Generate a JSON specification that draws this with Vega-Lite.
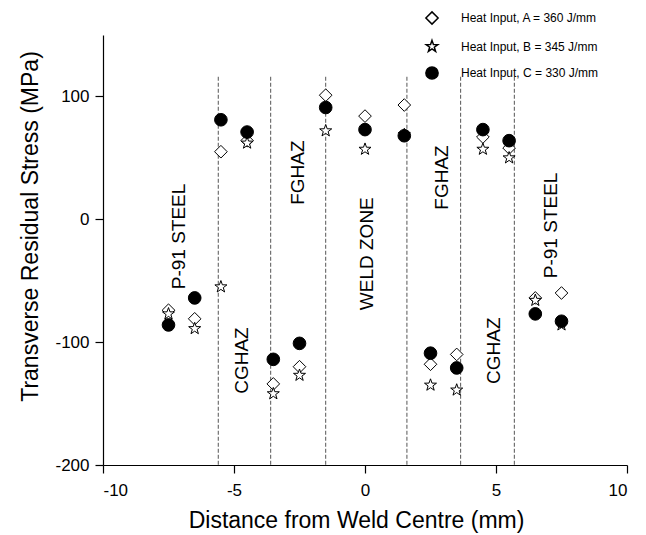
{
  "$schema": "https://vega.github.io/schema/vega-lite/v6.json",
  "width": 524,
  "height": 430,
  "autosize": {"type": "none"},
  "padding": {"left": 103, "top": 35, "right": 19, "bottom": 70},
  "background": "white",
  "config": {
    "view": {"stroke": null},
    "font": "Liberation Sans",
    "axis": {
      "grid": false,
      "domainColor": "black",
      "domainWidth": 1.2,
      "tickColor": "black",
      "tickWidth": 1.2,
      "tickSize": 8,
      "labelFont": "Liberation Sans",
      "labelFontSize": 17,
      "labelColor": "black",
      "titleFont": "Liberation Sans",
      "titleFontSize": 23,
      "titleFontWeight": "normal",
      "titleColor": "black"
    },
    "legend": {
      "labelFont": "Liberation Sans",
      "labelFontSize": 12,
      "labelColor": "black"
    }
  },
  "datasets": {
    "points": [
      {"x": -7.5, "y": -74, "series": "Heat Input, A = 360 J/mm"},
      {"x": -6.5, "y": -81, "series": "Heat Input, A = 360 J/mm"},
      {"x": -5.5, "y": 55, "series": "Heat Input, A = 360 J/mm"},
      {"x": -4.5, "y": 64, "series": "Heat Input, A = 360 J/mm"},
      {"x": -3.5, "y": -134, "series": "Heat Input, A = 360 J/mm"},
      {"x": -2.5, "y": -120, "series": "Heat Input, A = 360 J/mm"},
      {"x": -1.5, "y": 101, "series": "Heat Input, A = 360 J/mm"},
      {"x": 0, "y": 84, "series": "Heat Input, A = 360 J/mm"},
      {"x": 1.5, "y": 93, "series": "Heat Input, A = 360 J/mm"},
      {"x": 2.5, "y": -118, "series": "Heat Input, A = 360 J/mm"},
      {"x": 3.5, "y": -110, "series": "Heat Input, A = 360 J/mm"},
      {"x": 4.5, "y": 67, "series": "Heat Input, A = 360 J/mm"},
      {"x": 5.5, "y": 58, "series": "Heat Input, A = 360 J/mm"},
      {"x": 6.5, "y": -64, "series": "Heat Input, A = 360 J/mm"},
      {"x": 7.5, "y": -60, "series": "Heat Input, A = 360 J/mm"},
      {"x": -7.5, "y": -77, "series": "Heat Input, B = 345 J/mm"},
      {"x": -6.5, "y": -89, "series": "Heat Input, B = 345 J/mm"},
      {"x": -5.5, "y": -55, "series": "Heat Input, B = 345 J/mm"},
      {"x": -4.5, "y": 62, "series": "Heat Input, B = 345 J/mm"},
      {"x": -3.5, "y": -142, "series": "Heat Input, B = 345 J/mm"},
      {"x": -2.5, "y": -127, "series": "Heat Input, B = 345 J/mm"},
      {"x": -1.5, "y": 72, "series": "Heat Input, B = 345 J/mm"},
      {"x": 0, "y": 57, "series": "Heat Input, B = 345 J/mm"},
      {"x": 1.5, "y": 69, "series": "Heat Input, B = 345 J/mm"},
      {"x": 2.5, "y": -135, "series": "Heat Input, B = 345 J/mm"},
      {"x": 3.5, "y": -139, "series": "Heat Input, B = 345 J/mm"},
      {"x": 4.5, "y": 57, "series": "Heat Input, B = 345 J/mm"},
      {"x": 5.5, "y": 50, "series": "Heat Input, B = 345 J/mm"},
      {"x": 6.5, "y": -66, "series": "Heat Input, B = 345 J/mm"},
      {"x": 7.5, "y": -86, "series": "Heat Input, B = 345 J/mm"},
      {"x": -7.5, "y": -86, "series": "Heat Input, C = 330 J/mm"},
      {"x": -6.5, "y": -64, "series": "Heat Input, C = 330 J/mm"},
      {"x": -5.5, "y": 81, "series": "Heat Input, C = 330 J/mm"},
      {"x": -4.5, "y": 71, "series": "Heat Input, C = 330 J/mm"},
      {"x": -3.5, "y": -114, "series": "Heat Input, C = 330 J/mm"},
      {"x": -2.5, "y": -101, "series": "Heat Input, C = 330 J/mm"},
      {"x": -1.5, "y": 91, "series": "Heat Input, C = 330 J/mm"},
      {"x": 0, "y": 73, "series": "Heat Input, C = 330 J/mm"},
      {"x": 1.5, "y": 68, "series": "Heat Input, C = 330 J/mm"},
      {"x": 2.5, "y": -109, "series": "Heat Input, C = 330 J/mm"},
      {"x": 3.5, "y": -121, "series": "Heat Input, C = 330 J/mm"},
      {"x": 4.5, "y": 73, "series": "Heat Input, C = 330 J/mm"},
      {"x": 5.5, "y": 64, "series": "Heat Input, C = 330 J/mm"},
      {"x": 6.5, "y": -77, "series": "Heat Input, C = 330 J/mm"},
      {"x": 7.5, "y": -83, "series": "Heat Input, C = 330 J/mm"}
    ],
    "zones": [
      {"x": -5.6, "top": 116, "bottom": -200},
      {"x": -3.6, "top": 116, "bottom": -200},
      {"x": -1.5, "top": 116, "bottom": -200},
      {"x": 1.6, "top": 116, "bottom": -200},
      {"x": 3.65, "top": 116, "bottom": -200},
      {"x": 5.7, "top": 116, "bottom": -200}
    ],
    "labels": [
      {"x": -7.1, "y": -14, "label": "P-91 STEEL"},
      {"x": -4.7, "y": -115, "label": "CGHAZ"},
      {"x": -2.56, "y": 38, "label": "FGHAZ"},
      {"x": 0.07, "y": -28, "label": "WELD ZONE"},
      {"x": 2.94, "y": 34, "label": "FGHAZ"},
      {"x": 4.92, "y": -107, "label": "CGHAZ"},
      {"x": 7.1, "y": -5, "label": "P-91 STEEL"}
    ]
  },
  "layer": [
    {
      "data": {"name": "zones"},
      "mark": {"type": "rule", "color": "#555555", "strokeWidth": 1, "strokeDash": [4, 2]},
      "encoding": {
        "x": {"field": "x", "type": "quantitative", "scale": {"domain": [-10, 10], "nice": false, "zero": false}},
        "y": {"field": "top", "type": "quantitative", "scale": {"domain": [-200, 150], "nice": false, "zero": false}},
        "y2": {"field": "bottom"}
      }
    },
    {
      "data": {"name": "labels"},
      "mark": {"type": "text", "angle": 270, "fontSize": 19, "font": "Liberation Sans", "align": "center", "baseline": "middle", "color": "black"},
      "encoding": {
        "x": {"field": "x", "type": "quantitative"},
        "y": {"field": "y", "type": "quantitative"},
        "text": {"field": "label"}
      }
    },
    {
      "data": {"name": "points"},
      "mark": {"type": "point", "filled": true, "stroke": "black", "strokeWidth": 1, "size": 160, "opacity": 1, "fillOpacity": 1, "strokeOpacity": 1},
      "encoding": {
        "x": {
          "field": "x", "type": "quantitative",
          "title": "Distance from Weld Centre (mm)",
          "axis": {"values": [-10, -5, 0, 5, 10], "labelPadding": 9, "titlePadding": 11, "titleX": 253,
                   "labelExpr": "datum.value < 0 ? '-' + abs(datum.value) : '' + datum.value"}
        },
        "y": {
          "field": "y", "type": "quantitative",
          "title": "Transverse Residual Stress (MPa)",
          "axis": {"values": [-200, -100, 0, 100], "labelPadding": 6, "titlePadding": 12, "titleY": 191,
                   "labelExpr": "datum.value < 0 ? '-' + abs(datum.value) : '' + datum.value"}
        },
        "shape": {
          "field": "series", "type": "nominal",
          "scale": {
            "domain": ["Heat Input, A = 360 J/mm", "Heat Input, B = 345 J/mm", "Heat Input, C = 330 J/mm"],
            "range": ["diamond", "M0,-1L0.235,-0.324L0.951,-0.309L0.38,0.124L0.588,0.809L0,0.4L-0.588,0.809L-0.38,0.124L-0.951,-0.309L-0.235,-0.324Z", "circle"]
          },
          "legend": {
            "title": null, "orient": "none", "legendX": 322, "legendY": -24, "padding": 0,
            "symbolSize": 150, "rowPadding": 8.5, "labelOffset": 22,
            "encode": {"symbols": {"update": {"stroke": {"value": "black"}, "strokeWidth": {"value": 1}, "opacity": {"value": 1}}}}
          }
        },
        "fill": {
          "field": "series", "type": "nominal",
          "scale": {
            "domain": ["Heat Input, A = 360 J/mm", "Heat Input, B = 345 J/mm", "Heat Input, C = 330 J/mm"],
            "range": ["white", "white", "black"]
          },
          "legend": {
            "title": null, "orient": "none", "legendX": 322, "legendY": -24, "padding": 0,
            "symbolSize": 150, "rowPadding": 8.5, "labelOffset": 22,
            "encode": {"symbols": {"update": {"stroke": {"value": "black"}, "strokeWidth": {"value": 1}, "opacity": {"value": 1}}}}
          }
        }
      }
    }
  ]
}
